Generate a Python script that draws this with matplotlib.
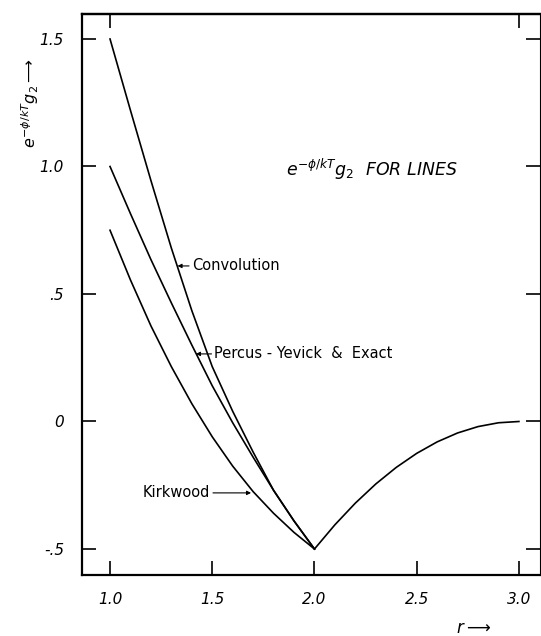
import numpy as np
import matplotlib
matplotlib.use('Agg')
import matplotlib.pyplot as plt

# values, r from 1.0 to 2.0 in steps of 0.1
r_left = [1.0, 1.1, 1.2, 1.3, 1.4, 1.5, 1.6, 1.7, 1.8, 1.9, 2.0]
convolution = [1.50, 1.22, 0.945, 0.68, 0.435, 0.215, 0.04, -0.12, -0.27, -0.39, -0.50]
percus_yevick = [1.00, 0.815, 0.635, 0.465, 0.30, 0.14, -0.005, -0.14, -0.27, -0.39, -0.50]
kirkwood = [0.75, 0.555, 0.375, 0.215, 0.07, -0.06, -0.175, -0.275, -0.36, -0.435, -0.50]

# common branch, r from 2.0 to 3.0
r_right = [2.0, 2.1, 2.2, 2.3, 2.4, 2.5, 2.6, 2.7, 2.8, 2.9, 3.0]
tail = [-0.50, -0.405, -0.32, -0.245, -0.18, -0.125, -0.08, -0.045, -0.02, -0.005, 0.0]

xticks = [1.0, 1.5, 2.0, 2.5, 3.0]
xtick_labels = ['1.0', '1.5', '2.0', '2.5', '3.0']
yticks = [1.5, 1.0, 0.5, 0.0, -0.5]
ytick_labels = ['1.5', '1.0', '.5', '0', '-.5']

fig = plt.figure(figsize=(5.41, 6.36), dpi=100, facecolor='white')
ax = fig.add_axes([0.1516, 0.0959, 0.8465, 0.8821])

lw = 1.2
ax.plot(r_left, convolution, color='black', lw=lw)
ax.plot(r_left, percus_yevick, color='black', lw=lw)
ax.plot(r_left, kirkwood, color='black', lw=lw)
ax.plot(r_right, tail, color='black', lw=lw)

ax.set_xlim(0.863, 3.103)
ax.set_ylim(-0.602, 1.598)

ax.set_xticks(xticks)
ax.set_xticklabels(xtick_labels, fontstyle='italic', fontsize=11)
ax.set_yticks(yticks)
ax.set_yticklabels(ytick_labels, fontstyle='italic', fontsize=11)
ax.tick_params(axis='both', direction='in', length=10, width=1.2,
               right=True, top=False)
ax.tick_params(axis='x', pad=12)
ax.tick_params(axis='y', pad=13)

# top ticks only at the ends
top = ax.secondary_xaxis('top')
top.set_xticks([1.0, 3.0])
top.set_xticklabels([])
top.tick_params(direction='in', length=10, width=1.2)
top.spines['top'].set_linewidth(1.6)

for s in ax.spines.values():
    s.set_linewidth(1.6)
ax.spines['right'].set_linewidth(0.8)

arrow = dict(arrowstyle='-|>', lw=0.8, color='black',
             shrinkA=0, shrinkB=0, mutation_scale=6)
ax.annotate('Convolution', xy=(1.33, 0.61), xytext=(1.40, 0.61),
            va='center', ha='left', fontsize=10.5, arrowprops=arrow)
ax.annotate('Percus - Yevick  &  Exact', xy=(1.42, 0.265), xytext=(1.51, 0.265),
            va='center', ha='left', fontsize=10.5, arrowprops=arrow)
ax.annotate('Kirkwood', xy=(1.69, -0.28), xytext=(1.49, -0.28),
            va='center', ha='right', fontsize=10.5, arrowprops=arrow)

ax.text(2.28, 0.99, r'$e^{-\phi/kT}g_2$  FOR LINES', fontstyle='italic',
        fontsize=12.5, ha='center', va='center')

fig.text(0.055, 0.838, r'$e^{-\phi/kT}g_2 \longrightarrow$', rotation=90,
         fontsize=11.5, ha='center', va='center')
fig.text(0.875, 0.013, r'$r \longrightarrow$', fontsize=12,
         ha='center', va='center')

fig.savefig('out.png', dpi=100, facecolor='white')
